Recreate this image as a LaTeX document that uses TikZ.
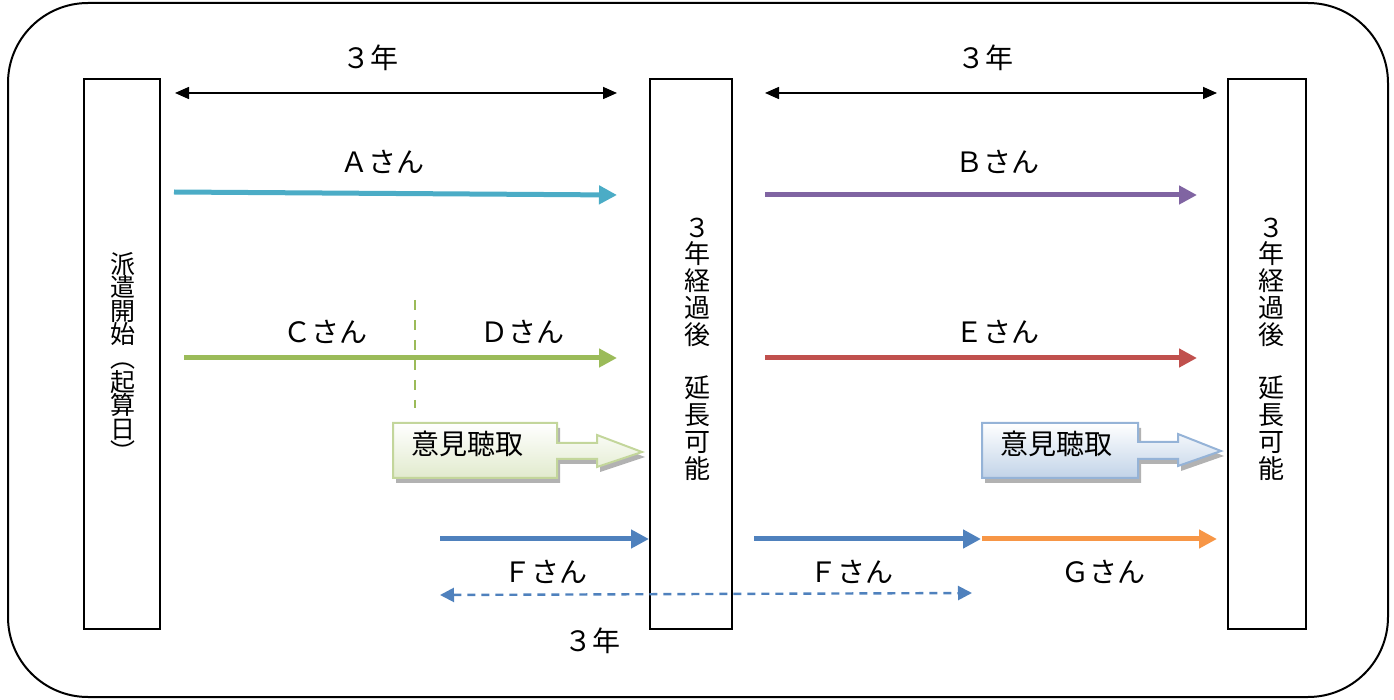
\documentclass[tikz,border=0pt]{standalone}
\usepackage{fontspec}
\newfontfamily\jp{Noto Sans CJK JP}
\usetikzlibrary{arrows.meta}
\definecolor{cA}{HTML}{4BACC6}
\definecolor{cB}{HTML}{8064A2}
\definecolor{cC}{HTML}{9BBB59}
\definecolor{cE}{HTML}{C0504D}
\definecolor{cF}{HTML}{4F81BD}
\definecolor{cG}{HTML}{F79646}
\definecolor{gEdge}{HTML}{C3D69B}
\definecolor{bEdge}{HTML}{95B3D7}
\begin{document}
\begin{tikzpicture}[x=0.5pt,y=-0.5pt,
  lbl/.style={font=\fontsize{14}{16}\selectfont\jp, inner sep=0pt},
  vtext/.style={font=\fontsize{13}{13.4}\selectfont\jp, align=center, inner sep=0pt},
  bar/.style={draw=black, line width=1pt, fill=white, inner sep=0pt, minimum height=275pt},
  span/.style={line width=0.8pt, {Triangle[length=7pt,width=6pt]}-{Triangle[length=7pt,width=6pt]}},
  flow/.style={line width=2.5pt, -{Triangle[length=9pt,width=9pt]}},
  gcall/.style={insert path={(393,423) -- (557,423) -- (557,443) -- (597,443) -- (597,435) -- (642,452) -- (597,467) -- (597,459) -- (557,459) -- (557,478) -- (393,478) -- cycle}},
  bcall/.style={insert path={(982,423) -- (1138,423) -- (1138,442) -- (1178,442) -- (1178,434) -- (1221,451) -- (1178,466) -- (1178,459) -- (1138,459) -- (1138,478) -- (982,478) -- cycle}}
]
\useasboundingbox (0,0) rectangle (1394,700);
% outer frame
\draw[line width=1pt, rounded corners=40pt] (8,3) rectangle (1388,697);

% bars
\node[bar, minimum width=38pt] (b1) at (122,354) {};
\node[bar, minimum width=41pt] (b2) at (691,354) {};
\node[bar, minimum width=39pt] (b3) at (1267,354) {};

% vertical texts
\node[vtext, font=\fontsize{12.5}{11.8}\selectfont\jp] (t1) at (123,357) {派\\遣\\開\\始\\︵\\起\\算\\日\\︶};
\node[vtext] (t2) at (697,349) {３\\年\\経\\過\\後\\　\\延\\長\\可\\能};
\node[vtext] (t3) at (1271,349) {３\\年\\経\\過\\後\\　\\延\\長\\可\\能};

% top spans
\coordinate (s1a) at (175,93); \coordinate (s1b) at (617,93);
\coordinate (s2a) at (765,93); \coordinate (s2b) at (1217,93);
\draw[span] (s1a) -- (s1b);
\draw[span] (s2a) -- (s2b);
\node[lbl] (y1) at (370,58) {３年};
\node[lbl] (y2) at (985,58) {３年};

% A, B
\coordinate (aa) at (174,192); \coordinate (ab) at (617,195);
\draw[flow, cA] (aa) -- (ab);
\node[lbl] (la) at (382,162) {Ａさん};
\coordinate (ba) at (765,195); \coordinate (bb) at (1197,195);
\draw[flow, cB] (ba) -- (bb);
\node[lbl] (lb) at (997,162) {Ｂさん};

% C, D
\coordinate (ca) at (184,358); \coordinate (cb) at (617,358);
\draw[flow, cC] (ca) -- (cb);
\coordinate (da) at (415,300); \coordinate (db) at (415,408);
\draw[cC, line width=1pt, dash pattern=on 5pt off 5pt] (da) -- (db);
\node[lbl] (lc) at (325,332) {Ｃさん};
\node[lbl] (ld) at (522,332) {Ｄさん};

% E
\coordinate (ea) at (765,358); \coordinate (eb) at (1197,358);
\draw[flow, cE] (ea) -- (eb);
\node[lbl] (le) at (997,332) {Ｅさん};

% callouts
\fill[black, opacity=0.3, shift={(3,5)}, gcall];
\shadedraw[top color=white, bottom color=cC!30, draw=gEdge, line width=1pt, gcall];
\node[lbl] (g1) at (467,444) {意見聴取};
\fill[black, opacity=0.3, shift={(3,5)}, bcall];
\shadedraw[top color=white, bottom color=cF!35, draw=bEdge, line width=1pt, bcall];
\node[lbl] (g2) at (1056,444) {意見聴取};

% F, G
\coordinate (fa) at (440,539);
\draw[flow, cF] (fa) -- (b2.west |- fa);
\coordinate (fc) at (754,539); \coordinate (fd) at (981,539);
\draw[flow, cF] (fc) -- (fd);
\coordinate (ga) at (982,539); \coordinate (gb) at (1217,539);
\draw[flow, cG] (ga) -- (gb);
\node[lbl] (lf1) at (545,572) {Ｆさん};
\node[lbl] (lf2) at (851,572) {Ｆさん};
\node[lbl] (lg) at (1103,572) {Ｇさん};

% dashed 3-year span
\coordinate (pa) at (440,595); \coordinate (pb) at (972,593);
\draw[cF, line width=1.2pt, dash pattern=on 4pt off 3pt, {Triangle[length=7pt,width=7pt]}-{Triangle[length=7pt,width=7pt]}] (pa) -- (pb);
\node[lbl] (y3) at (592,641) {３年};
\end{tikzpicture}
\end{document}
